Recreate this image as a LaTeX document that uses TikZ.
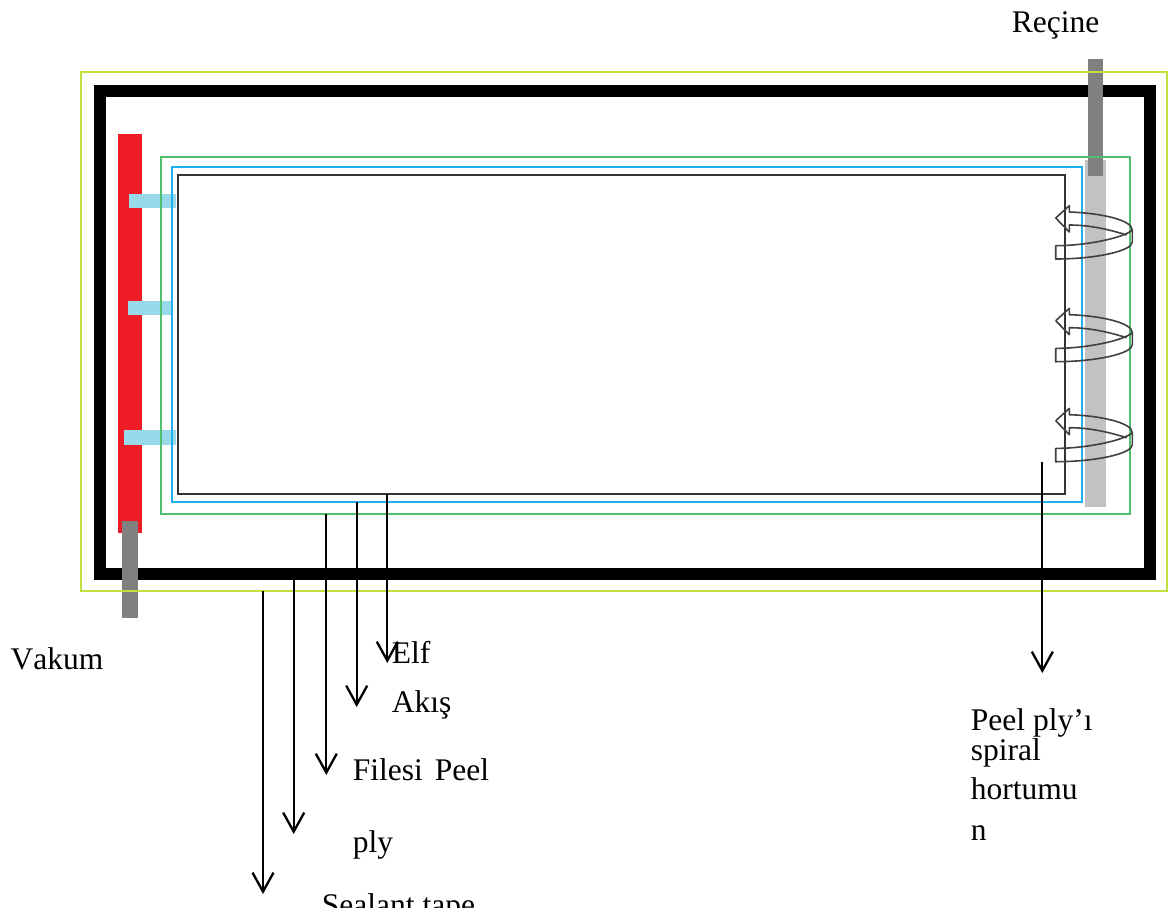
\documentclass[tikz,border=0pt]{standalone}
\usepackage{fontspec}
\setmainfont[Kerning=Off]{Liberation Serif}
\usetikzlibrary{arrows.meta}
\definecolor{Lime}{HTML}{BFE23C}
\definecolor{Leaf}{HTML}{4FBF6E}
\definecolor{Sky}{HTML}{1FB0F0}
\definecolor{Pipe}{HTML}{808080}
\definecolor{Spiral}{HTML}{C2C2C2}
\definecolor{Vac}{HTML}{EE1C25}
\definecolor{Mesh}{HTML}{98D9EA}
\tikzset{
 label/.style={anchor=base west,inner sep=0pt,font=\fontsize{31.5}{36}\selectfont},
 frame/.style={line width=12pt,draw=black,line join=miter},
 film/.style={line width=2pt,fill=none},
 bar/.style={fill=#1,draw=none},
 arr/.style={-{Straight Barb[length=19pt,width=21pt]},line width=2.3pt,draw=black},
 wrap/.pic={
  \draw[line width=1.6pt,draw=black!75,line join=round]
   (0,0)--(13.6,-12.3)--(13.6,-6) .. controls (45,-5) and (76.6,2) .. (76.6,12)
   --(76.6,24) .. controls (76.6,33) and (40,41) .. (0,41)--(0,27.7)
   .. controls (30,27.7) and (68,20) .. (76.6,12);
  \draw[line width=1.6pt,draw=black!75,line join=round]
   (71,17) .. controls (55,12) and (35,7) .. (13.6,7)--(13.6,14)--(0,0);
 }
}
\begin{document}
\begin{tikzpicture}[x=1pt,y=-1pt]
\useasboundingbox (0,0) rectangle (1168,916);
% bag and seal
\draw[frame] (99.5,90.5) rectangle (1149.7,574);
\fill[bar=Vac] (118.3,134) rectangle (141.7,533);
\fill[bar=Spiral] (1084.7,160) rectangle (1106,507.3);
\fill[bar=Pipe] (1087.7,59.3) rectangle (1102.7,176);
\fill[bar=Pipe] (121.7,521) rectangle (138.3,617.7);
\draw[film,draw=Lime] (80.5,72) rectangle (1167,591);
% vacuum branches
\fill[bar=Mesh] (129.3,194) rectangle (175.7,208);
\fill[bar=Mesh] (127.7,300.7) rectangle (171.5,315.3);
\fill[bar=Mesh] (124.3,430.3) rectangle (175.7,444.7);
\draw[film,draw=Leaf] (161,157.3) rectangle (1130,513.7);
\draw[film,draw=Sky] (171.7,167.3) rectangle (1082,502.3);
\draw[film,draw=black!80] (178.3,175) rectangle (1064.7,494.3);
% wraps
\pic at (1055.7,218) {wrap};
\pic at (1055.7,320.7) {wrap};
\pic at (1055.7,420.7) {wrap};
% leader ends
\coordinate (elfA) at (387.3,494);\coordinate (elfB) at (387.3,663);
\coordinate (meshA) at (356.7,502);\coordinate (meshB) at (356.7,707);
\coordinate (peelA) at (326.3,513.7);\coordinate (peelB) at (326.3,775);
\coordinate (bagA) at (293.7,580);\coordinate (bagB) at (293.7,834);
\coordinate (tapeA) at (263,591);\coordinate (tapeB) at (263,894);
\coordinate (wrapA) at (1042.3,462);\coordinate (wrapB) at (1042.3,673);
\draw[arr] (elfA)--(elfB);\draw[arr] (meshA)--(meshB);\draw[arr] (peelA)--(peelB);
\draw[arr] (bagA)--(bagB);\draw[arr] (tapeA)--(tapeB);\draw[arr] (wrapA)--(wrapB);
% labels
\node[label] (recine) at (1011.7,32) {Reçine};
\node[label] (vakum) at (10.5,669) {Vakum};
\node[label] (elf) at (391.7,663) {Elf};
\node[label] (akis) at (391.7,712.7) {Akış};
\node[label] (filesi) at (352.7,780.7) {Filesi\hspace{4pt} Peel};
\node[label] (ply) at (352.7,852.7) {ply};
\begin{scope}
\clip (0,0) rectangle (1168,907);
\node[label] (sealant) at (321.7,915) {Sealant tape};
\end{scope}
\node[label] (peelply) at (970.7,730) {Peel ply’ı};
\node[label] (spiral) at (970.7,760) {spiral};
\node[label] (hortumu) at (970.7,799) {hortumu};
\node[label] (hortn) at (970.7,840) {n};
\end{tikzpicture}
\end{document}
